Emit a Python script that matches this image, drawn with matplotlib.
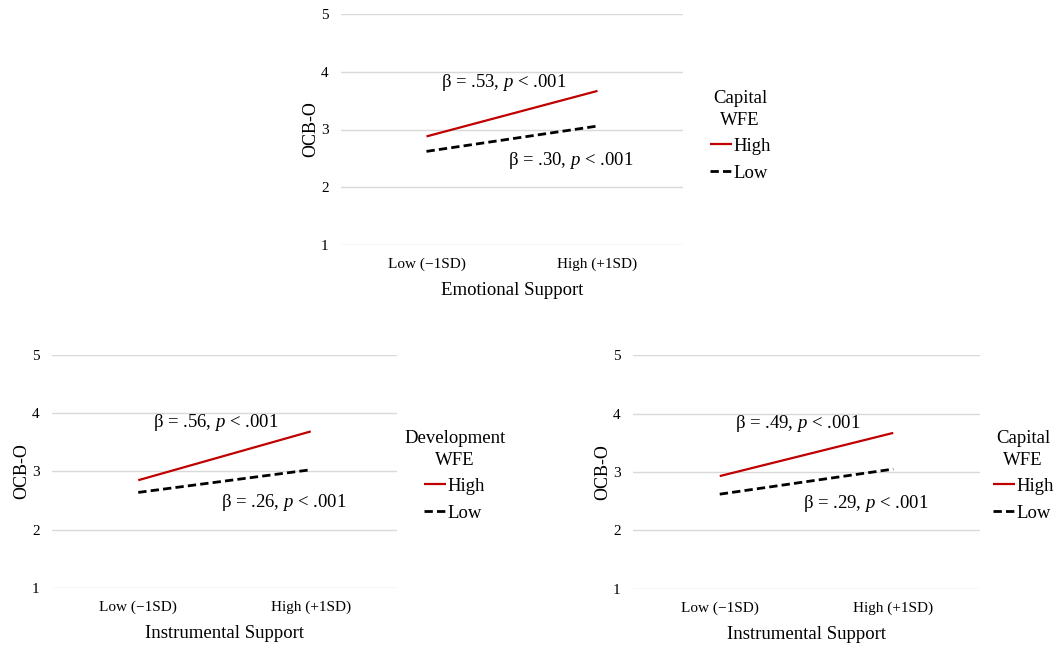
import matplotlib
matplotlib.use("Agg")
import matplotlib.pyplot as plt

plt.rcParams["font.family"] = ["Liberation Serif", "DejaVu Serif"]
plt.rcParams["mathtext.fontset"] = "custom"
plt.rcParams["mathtext.rm"] = "Liberation Serif"
plt.rcParams["mathtext.it"] = "Liberation Serif:italic"

categories = ["Low (\u22121SD)", "High (+1SD)"]
y_ticks = [1, 2, 3, 4, 5]

# one entry per panel
panel_xlabels = ["Emotional Support", "Instrumental Support", "Instrumental Support"]
panel_legend_titles = ["Capital\nWFE", "Development\nWFE", "Capital\nWFE"]
high_values = [[2.88, 3.67], [2.85, 3.69], [2.93, 3.67]]
low_values = [[2.62, 3.06], [2.64, 3.03], [2.62, 3.05]]
high_labels = ["\u03b2 = .53, $p$ < .001", "\u03b2 = .56, $p$ < .001", "\u03b2 = .49, $p$ < .001"]
low_labels = ["\u03b2 = .30, $p$ < .001", "\u03b2 = .26, $p$ < .001", "\u03b2 = .29, $p$ < .001"]
high_label_pos = [(0.085, 3.82), (0.086, 3.84), (0.088, 3.83)]
low_label_pos = [(0.477, 2.47), (0.48, 2.47), (0.48, 2.46)]

W, H = 1057, 649
axes_px = [(341, 14, 683, 245), (52, 355, 397, 588), (633, 355, 980, 589)]
legend_px = [(710, 90), (404, 430), (993, 430)]

fig = plt.figure(figsize=(W / 100, H / 100), dpi=100)

for i in range(3):
    x0, y0, x1, y1 = axes_px[i]
    ax = fig.add_axes([x0 / W, 1 - y1 / H, (x1 - x0) / W, (y1 - y0) / H])
    xs = list(range(len(categories)))
    ax.plot(xs, high_values[i], color="#c00000", linewidth=1.6, label="High",
            solid_capstyle="butt")
    ax.plot(xs, low_values[i], color="black", linewidth=2.0, linestyle=(0, (3, 1.5)),
            label="Low")
    ax.set_xlim(-0.5, 1.5)
    ax.set_ylim(0.995, 5.005)
    ax.set_yticks(y_ticks)
    ax.set_xticks(xs)
    ax.set_xticklabels(categories, fontsize=11)
    ax.tick_params(axis="y", labelsize=11, length=0, pad=9)
    ax.tick_params(axis="x", length=0, pad=9)
    ax.grid(axis="y", color="#d9d9d9", linewidth=1)
    ax.set_axisbelow(True)
    for s in ax.spines.values():
        s.set_visible(False)
    ax.set_ylabel("OCB-O", fontsize=13, labelpad=1)
    ax.set_xlabel(panel_xlabels[i], fontsize=13.5, labelpad=8)

    ax.text(*high_label_pos[i], high_labels[i], fontsize=13.5, va="center", ha="left")
    ax.text(*low_label_pos[i], low_labels[i], fontsize=13.5, va="center", ha="left")

    lx, ly = legend_px[i]
    leg = fig.legend(handles=ax.get_lines(), labels=["High", "Low"],
                     title=panel_legend_titles[i], loc="upper left",
                     bbox_to_anchor=(lx / W, 1 - ly / H), frameon=False,
                     fontsize=13.5, title_fontsize=13.5, handlelength=1.15,
                     handletextpad=0.08, labelspacing=0.5, borderpad=0,
                     borderaxespad=0)
    leg.get_title().set_multialignment("center")
    leg.get_title().set_linespacing(1.35)

fig.savefig("out.png", dpi=100)
